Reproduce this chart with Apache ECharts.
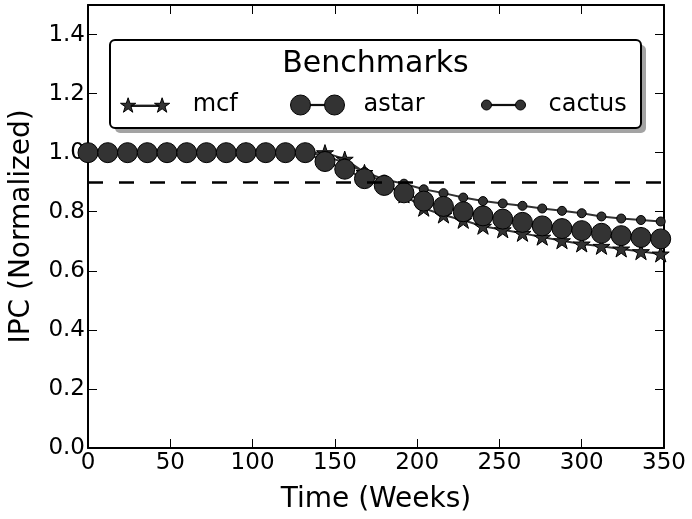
<!DOCTYPE html>
<html><head><meta charset="utf-8">
<script src="https://cdn.jsdelivr.net/npm/echarts@6/dist/echarts.min.js"></script>
<style>html,body{margin:0;padding:0;background:#fff}#c{width:692px;height:519px}</style>
</head><body><div id="c"></div>
<script>
// ---- data ----
const weeks  = [0,12,24,36,48,60,72,84,96,108,120,132,144,156,168,180,192,204,216,228,240,252,264,276,288,300,312,324,336,348];
const mcf    = [1,1,1,1,1,1,1,1,1,1,1,1,1,0.978,0.933,0.897,0.857,0.812,0.789,0.771,0.751,0.739,0.727,0.714,0.702,0.691,0.683,0.674,0.665,0.657];
const astar  = [1,1,1,1,1,1,1,1,1,1,1,1,0.970,0.944,0.912,0.889,0.864,0.836,0.818,0.800,0.786,0.775,0.764,0.752,0.743,0.736,0.727,0.719,0.713,0.708];
const cactus = [1,1,1,1,1,1,1,1,1,1,1,1,0.990,0.965,0.935,0.909,0.895,0.876,0.863,0.848,0.836,0.828,0.820,0.811,0.803,0.795,0.784,0.777,0.772,0.767];
const threshold = 0.9;
const seriesNames = ['mcf','astar','cactus'];
const legendTitle = 'Benchmarks';
const xName = 'Time (Weeks)';
const yName = 'IPC (Normalized)';

const FONT = 'DejaVu Sans';
const STAR = 'path://M50 0 L61.23 34.55 L97.55 34.55 L68.17 55.9 L79.39 90.45 L50 69.1 L20.61 90.45 L31.83 55.9 L2.45 34.55 L38.77 34.55 Z';
const ICON_MCF = 'path://M8 2 L9.8 7.53 L15.61 7.53 L10.91 10.95 L12.7 16.47 L8 13.06 L3.3 16.47 L5.09 10.95 L0.39 7.53 L6.2 7.53 Z ' +
  'M11 9.4 L39 9.4 L39 10.6 L11 10.6 Z ' +
  'M42 2 L43.8 7.53 L49.61 7.53 L44.91 10.95 L46.7 16.47 L42 13.06 L37.3 16.47 L39.09 10.95 L34.39 7.53 L40.2 7.53 Z';
const ICON_ASTAR = 'path://M0 10 A10 10 0 1 1 20 10 A10 10 0 1 1 0 10 Z M20 9.4 L34 9.4 L34 10.6 L20 10.6 Z M34 10 A10 10 0 1 1 54 10 A10 10 0 1 1 34 10 Z';
const ICON_CACTUS = 'path://M0 5 A5 5 0 1 1 10 5 A5 5 0 1 1 0 5 Z M10 4.4 L34 4.4 L34 5.6 L10 5.6 Z M34 5 A5 5 0 1 1 44 5 A5 5 0 1 1 34 5 Z';

const chart = echarts.init(document.getElementById('c'), null, {renderer: 'canvas'});

const axisLine = {show: true, onZero: false, lineStyle: {color: '#000', width: 2}};
const axisTick = {show: true, inside: true, length: 9, lineStyle: {color: '#000', width: 1}};

function legendFor(name, icon, left, w, h, pad) {
  return {
    data: [{name: name, icon: icon}],
    left: left, top: 93, padding: 0, orient: 'horizontal',
    itemWidth: w, itemHeight: h, selectedMode: false,
    textStyle: {fontFamily: FONT, fontSize: 24, color: '#000', padding: [0, 0, 0, pad], lineHeight: 24},
    itemStyle: {color: '#333', borderColor: '#000', borderWidth: 1},
    z: 20
  };
}

function lineSeries(name, values, symbol, size) {
  return {
    name: name, type: 'line',
    data: weeks.map((w, i) => [w, values[i]]),
    symbol: symbol, symbolSize: size, symbolKeepAspect: true,
    showSymbol: true, showAllSymbol: true,
    lineStyle: {color: '#333', width: 2},
    itemStyle: {color: '#333', borderColor: '#000', borderWidth: 1},
    emphasis: {disabled: true},
    animation: false
  };
}

const sMcf = lineSeries(seriesNames[0], mcf, STAR, 17);
sMcf.markLine = {
  silent: true, symbol: ['none', 'none'], label: {show: false},
  lineStyle: {color: '#000', width: 2.5, type: [15, 16]},
  data: [{yAxis: threshold}],
  animation: false
};
const sCactus = lineSeries(seriesNames[2], cactus, 'circle', 9);
const sAstar = lineSeries(seriesNames[1], astar, 'circle', 20);

chart.setOption({
  animation: false,
  textStyle: {fontFamily: FONT},
  grid: {left: 88, right: 28, top: 5, bottom: 69, containLabel: false},
  xAxis: [{
    type: 'value', position: 'bottom', min: 0, max: 350, interval: 50,
    axisLine: axisLine, axisTick: axisTick, splitLine: {show: false},
    axisLabel: {fontSize: 23, color: '#000', margin: 4, fontFamily: FONT},
    name: xName, nameLocation: 'middle', nameGap: 38,
    nameTextStyle: {fontSize: 28, color: '#000', fontFamily: FONT}
  }, {
    type: 'value', position: 'top', min: 0, max: 350, interval: 50,
    axisLine: axisLine, axisTick: axisTick, splitLine: {show: false},
    axisLabel: {show: false}
  }],
  yAxis: [{
    type: 'value', position: 'left', min: 0, max: 1.5, interval: 0.2,
    axisLine: axisLine, axisTick: axisTick, splitLine: {show: false},
    axisLabel: {fontSize: 23, color: '#000', margin: 3, fontFamily: FONT, showMaxLabel: false,
      formatter: v => v.toFixed(1)},
    name: yName, nameLocation: 'middle', nameGap: 52, nameRotate: 90,
    nameTextStyle: {fontSize: 28, color: '#000', fontFamily: FONT}
  }, {
    type: 'value', position: 'right', min: 0, max: 1.5, interval: 0.2,
    axisLine: axisLine, axisTick: axisTick, splitLine: {show: false},
    axisLabel: {show: false}
  }],
  legend: [
    legendFor(seriesNames[0], ICON_MCF, 120, 49.22, 14.47, 18),
    legendFor(seriesNames[1], ICON_ASTAR, 290, 54, 20, 14),
    legendFor(seriesNames[2], ICON_CACTUS, 481, 44, 10, 18)
  ],
  graphic: [
    {type: 'rect', shape: {x: 115, y: 45, width: 531, height: 88, r: 5}, style: {fill: '#a3a3a3'}, z: 10},
    {type: 'rect', shape: {x: 110, y: 40, width: 531, height: 88, r: 5}, style: {fill: '#fff', stroke: '#000', lineWidth: 2}, z: 11},
    {type: 'text', x: 375.5, y: 64, style: {text: legendTitle, fontSize: 30, fontFamily: FONT, fill: '#000', align: 'center', verticalAlign: 'middle'}, z: 12}
  ],
  series: [sMcf, sCactus, sAstar]
});
</script>
</body></html>
